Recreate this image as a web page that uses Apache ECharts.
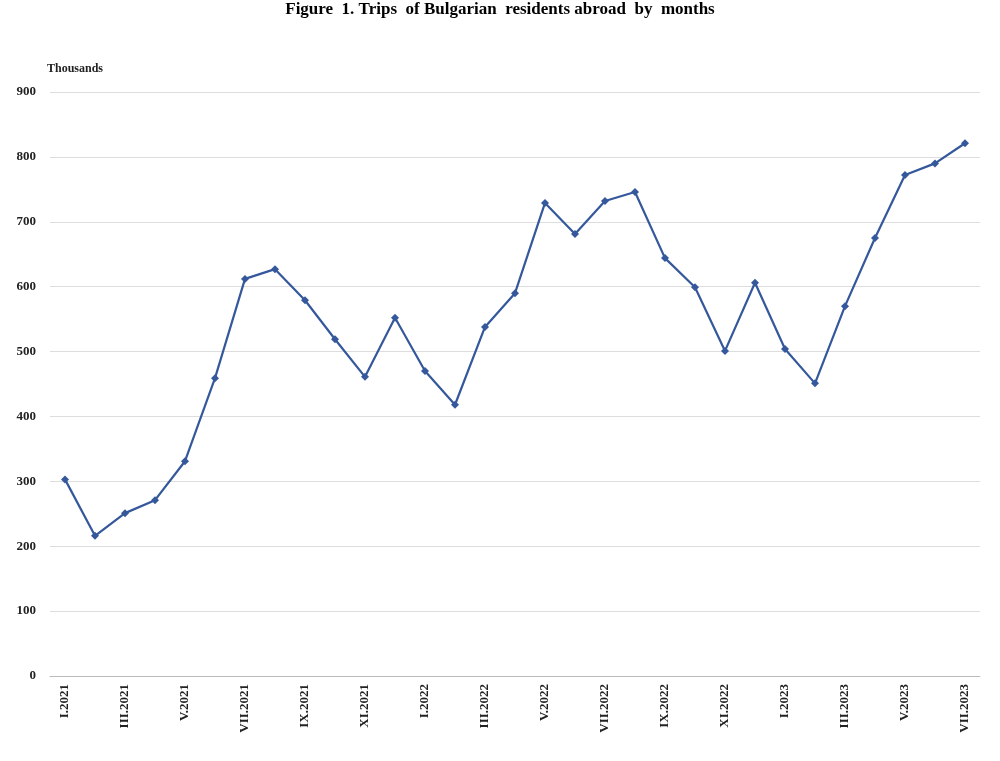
<!DOCTYPE html>
<html><head><meta charset="utf-8">
<script src="https://cdn.jsdelivr.net/npm/echarts@6/dist/echarts.min.js"></script>
<style>html,body{margin:0;padding:0;background:#fff}#c{width:1000px;height:761px}</style>
</head><body><div id="c"></div>
<script>
const romans = ['I','II','III','IV','V','VI','VII','VIII','IX','X','XI','XII'];
const categories = [];
for (let y = 2021; y <= 2023; y++) for (let m = 0; m < 12; m++) { if (y === 2023 && m > 6) break; categories.push(romans[m] + '.' + y); }
const trips = [303,216,251,271,331,459,612,627,579,519,461,552,470,418,538,590,729,681,732,746,644,599,501,606,504,451,570,675,772,790,821];
const yTicks = {min:0, max:900, interval:100};
const chart = echarts.init(document.getElementById('c'));
const font = '"Liberation Serif","Times New Roman",serif';
chart.setOption({
  backgroundColor:'#fff',
  title:{text:'Figure  1. Trips  of Bulgarian  residents abroad  by  months', left:'center', top:-4,
    textStyle:{fontFamily:font, fontSize:17, fontWeight:'bold', color:'#000'}},
  graphic:[{type:'text', left:47, top:63, style:{text:'Thousands', font:'bold 12px '+font, fill:'#222'}}],
  grid:{left:50, right:20, top:92, bottom:85},
  xAxis:{type:'category', data:categories, boundaryGap:true,
    axisLine:{lineStyle:{color:'#bbb'}}, axisTick:{show:false},
    axisLabel:{interval:1, rotate:90, fontFamily:font, fontSize:13, fontWeight:'bold', color:'#222', margin:8}},
  yAxis:{type:'value', min:yTicks.min, max:yTicks.max, interval:yTicks.interval,
    axisLine:{show:false}, axisTick:{show:false},
    splitLine:{lineStyle:{color:'#ddd'}},
    axisLabel:{fontFamily:font, fontSize:13, fontWeight:'bold', color:'#222', margin:14}},
  series:[{type:'line', data:trips, symbol:'diamond', symbolSize:8,
    lineStyle:{color:'#34589b', width:2.2}, itemStyle:{color:'#34589b'}}]
});
</script></body></html>
